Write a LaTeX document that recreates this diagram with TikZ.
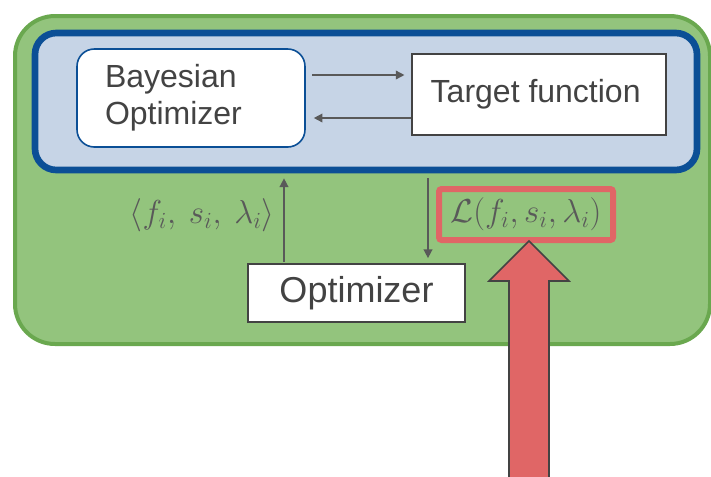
\documentclass[tikz,border=0pt]{standalone}
\usepackage{fontspec}
\setmainfont{Liberation Sans}
\usetikzlibrary{positioning,calc,arrows.meta}

\definecolor{outerfill}{HTML}{93C47D}
\definecolor{outerline}{HTML}{6AA84F}
\definecolor{loopfill}{HTML}{C6D4E6}
\definecolor{loopline}{HTML}{0B4F96}
\definecolor{lossred}{HTML}{E06666}
\definecolor{textgray}{HTML}{434343}
\definecolor{arrowgray}{HTML}{595959}

\begin{document}
\begin{tikzpicture}[
  x=0.75pt, y=-0.75pt,
  outerloop/.style={draw=outerline, line width=3pt, fill=outerfill, rounded corners=30pt},
  innerloop/.style={draw=loopline, line width=5pt, fill=loopfill, rounded corners=16pt,
    minimum width=496.5pt, minimum height=102.75pt, inner sep=0pt},
  bonode/.style={draw=loopline, line width=1.2pt, fill=white, rounded corners=13pt,
    text=textgray, font=\fontsize{24}{28}\selectfont, align=left,
    text width=129pt, inner xsep=21pt, minimum height=73.5pt},
  box/.style={draw=textgray, line width=1.3pt, fill=white, text=textgray, inner sep=0pt},
  lossbox/.style={draw=lossred, line width=4.5pt, rounded corners=2pt, inner sep=0pt,
    minimum width=130.5pt, minimum height=38.25pt},
  mathlabel/.style={text=arrowgray, font=\fontsize{26}{30}\selectfont, inner sep=0pt},
  flow/.style={-{Triangle[length=6.5pt,width=6.5pt]}, draw=arrowgray, line width=1.1pt},
  bigarrow/.style={draw=textgray, line width=1.2pt, fill=lossred, line join=miter}
]
\useasboundingbox (0,0) rectangle (711,476);

% Outer loop
\draw[outerloop] (15,16) rectangle (710,344);

% Inner loop: Bayesian optimization
\node[innerloop] (loop) at (366,101.5) {};
\node[bonode] (bayes) at (191,98) {Bayesian\\Optimizer};
\node[box, minimum width=190.5pt, minimum height=60.75pt,
  font=\fontsize{24}{28}\selectfont] (target) at (539,94.5) {\hspace*{-5pt}Target function};

\draw[flow, shorten <=5pt, shorten >=5pt] ($(bayes.east)+(0,-23)$) -- ($(target.west |- bayes.east)+(0,-23)$);
\draw[flow, shorten >=6pt] ($(target.west)+(0,23.5)$) -- ($(bayes.east |- target.west)+(0,23.5)$);

% Optimizer and its hyperparameters
\node[box, minimum width=162.75pt, minimum height=43.5pt,
  font=\fontsize{27}{32}\selectfont] (optimizer) at (356.5,293) {Optimizer};
\coordinate (up) at ($(optimizer.north)+(-72.5,0)$);
\coordinate (down) at ($(optimizer.north)+(71.5,0)$);

\draw[flow, shorten <=1pt, shorten >=3.75pt] (up) -- (up |- loop.south);
\draw[flow, shorten <=3.75pt, shorten >=3.75pt] (down |- loop.south) -- (down);

\node[mathlabel, anchor=east] (hyper) at ($(up)+(-9,-48)$) {$\langle f_i,\: s_i,\: \lambda_i \rangle$};
\node[lossbox] (loss) at (526,214.5) {};
\node[mathlabel] (losstext) at (loss.center) {$\mathcal{L}(f_i, s_i, \lambda_i)$};

% Pointer to the loss
\coordinate (tip) at ($(loss.south)+(3,-2)$);
\draw[bigarrow] (tip) -- ++(40,40) -- ++(-20,0) -- ++(0,200) -- ++(-40,0)
  -- ++(0,-200) -- ++(-20,0) -- cycle;

\end{tikzpicture}
\end{document}
